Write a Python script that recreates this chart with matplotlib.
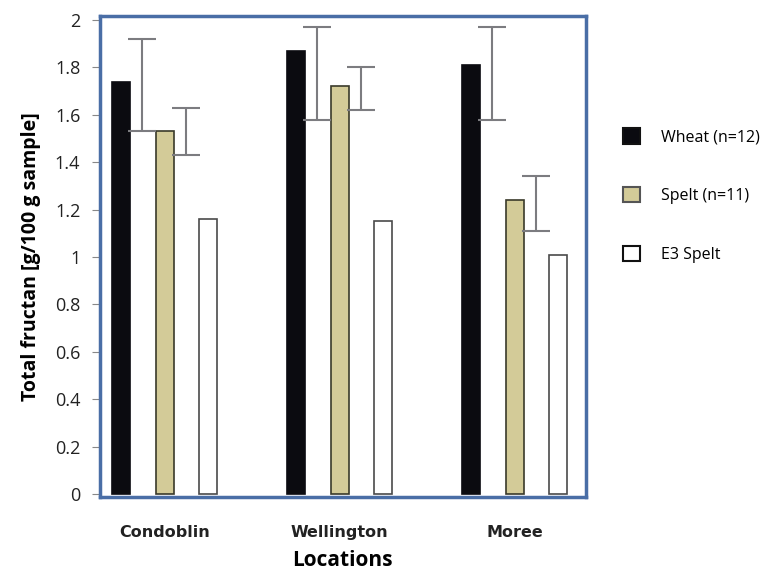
import numpy as np
import matplotlib.pyplot as plt
from matplotlib.patches import Patch

locations = ['Condoblin', 'Wellington', 'Moree']
series = ['Wheat (n=12)', 'Spelt (n=11)', 'E3 Spelt']
wheat = [1.74, 1.87, 1.81]
spelt = [1.53, 1.72, 1.24]
e3_spelt = [1.16, 1.15, 1.01]
# error bar ends (low, high), drawn beside the bars
wheat_err_low = [1.53, 1.58, 1.58]
wheat_err_high = [1.92, 1.97, 1.97]
spelt_err_low = [1.43, 1.62, 1.11]
spelt_err_high = [1.63, 1.80, 1.34]

colors = ['#0b0b10', '#d3cb98', 'white']
edges = ['#0b0b10', '#3a3a2a', '#4a4a4a']

fig = plt.figure(figsize=(7.8, 5.7), dpi=100)
ax = fig.add_axes([0.128, 0.128, 0.623, 0.844])

x = np.arange(len(locations))
w = 0.103
offsets = [-0.25, 0.0, 0.245]
for vals, off, c, ec in zip([wheat, spelt, e3_spelt], offsets, colors, edges):
    ax.bar(x + off, vals, w, color=c, edgecolor=ec, linewidth=1.2, zorder=2)

# error bars shifted to the right of wheat and spelt bars
shift = 0.12
for vals_lo, vals_hi, off in [(wheat_err_low, wheat_err_high, offsets[0]),
                              (spelt_err_low, spelt_err_high, offsets[1])]:
    lo = np.array(vals_lo)
    hi = np.array(vals_hi)
    mid = (lo + hi) / 2
    ax.errorbar(x + off + shift, mid, yerr=(hi - lo) / 2, fmt='none',
                ecolor='#7c7c80', elinewidth=1.5, capsize=10, capthick=1.5, zorder=3)

ax.set_xlim(-0.371, 2.406)
ax.set_ylim(-0.0127, 2.017)
ax.set_yticks(np.arange(0, 2.01, 0.2))
ax.set_yticklabels(['0', '0.2', '0.4', '0.6', '0.8', '1', '1.2', '1.4', '1.6', '1.8', '2'],
                   fontsize=13, family='Open Sans', color='#222222')
ax.tick_params(axis='y', direction='out', length=6, color='#888888', pad=8)
ax.set_xticks(x)
ax.set_xticklabels(locations, fontsize=11.5, fontweight='bold', color='#222222')
ax.tick_params(axis='x', length=0, pad=20)
for s in ax.spines.values():
    s.set_color('#4a6ea6')
    s.set_linewidth(2.5)

ax.set_ylabel('Total fructan [g/100 g sample]', fontsize=14, fontweight='bold',
              family='Open Sans', labelpad=10)
ax.set_xlabel('Locations', fontsize=15, fontweight='bold', family='Open Sans', labelpad=7)

handles = [Patch(facecolor=c, edgecolor=ec, linewidth=1.5) for c, ec in zip(colors, ['#111111', '#555555', '#111111'])]
fig.legend(handles, series, loc='upper left', bbox_to_anchor=(0.78, 0.8), frameon=False,
           prop={'family': 'Open Sans', 'size': 11.5}, labelspacing=2.6,
           handlelength=1.1, handleheight=1.1, handletextpad=1.3)

fig.savefig('out.png', dpi=100)
